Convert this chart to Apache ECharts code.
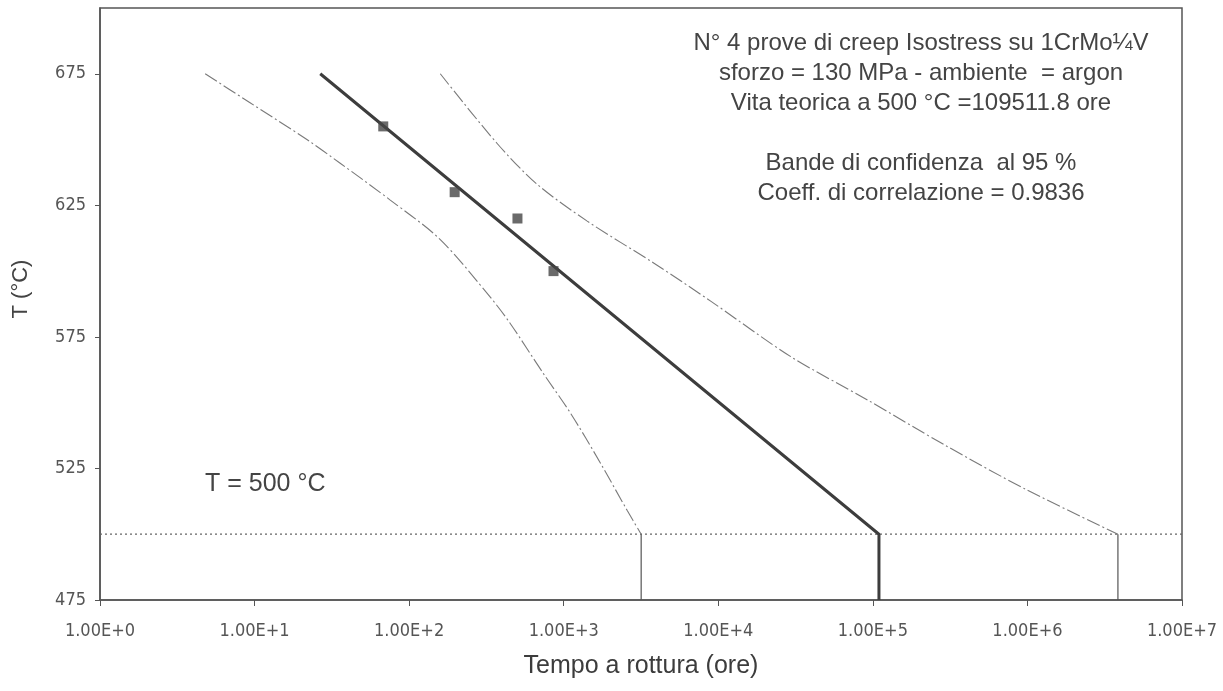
<!DOCTYPE html>
<html>
<head>
<meta charset="utf-8">
<script src="https://cdn.jsdelivr.net/npm/echarts@6/dist/echarts.min.js"></script>
<style>
  html, body { margin: 0; padding: 0; background: #fff; }
  #chart { width: 1223px; height: 691px; }
</style>
</head>
<body>
<div id="chart"></div>
<script>
// creep test points (ore, °C)
const testHours = [68, 197, 502, 859];
const testTemp = [655, 630, 620, 600];

// regression line, ends at the theoretical life at 500 °C
const fitHours = [26.6, 109511.8];
const fitTemp = [675, 500];

// 95% confidence bands
const lowBandHours = [4.79, 9.35, 21.8, 35.8, 75.5, 159, 336, 452, 740, 1107, 1730, 2576, 3170];
const lowBandTemp = [675, 664, 650, 641, 627, 612, 590, 580, 561, 546, 527, 509, 500];
const highBandHours = [159, 371, 673, 1419, 3837, 8974, 29440, 92470, 289700, 979500, 3850000];
const highBandTemp = [675, 648.5, 633, 619, 603, 588.5, 567.5, 551, 534, 517, 500];

const refTemp = 500;
const yTicks = [475, 525, 575, 625, 675];

const infoLines = [
  "N° 4 prove di creep Isostress su 1CrMo¼V",
  "sforzo = 130 MPa - ambiente  = argon",
  "Vita teorica a 500 °C =109511.8 ore",
  "",
  "Bande di confidenza  al 95 %",
  "Coeff. di correlazione = 0.9836",
];

const zip = (xs, ys) => xs.map((x, i) => [x, ys[i]]);
const TICK_FONT = "'DejaVu Sans Condensed', 'Liberation Sans Narrow', sans-serif";
const TEXT_FONT = "'Liberation Sans', Arial, sans-serif";

let myChart = echarts.init(document.getElementById("chart"));

let lastFit = fitHours[fitHours.length - 1];
let lastLow = lowBandHours[lowBandHours.length - 1];
let lastHigh = highBandHours[highBandHours.length - 1];

let bandStyle = { color: "#7a7a7a", width: 1.1, type: [14, 3, 2, 3] };
let dropStyle = { color: "#555", width: 1.2 };

let option = {
  animation: false,
  backgroundColor: "#fff",
  grid: {
    left: 100,
    right: 41,
    top: 8,
    bottom: 91,
    show: true,
    borderColor: "#555",
    borderWidth: 1.5,
  },
  xAxis: {
    type: "log",
    logBase: 10,
    min: 1,
    max: 1e7,
    splitNumber: 7,
    name: "Tempo a rottura (ore)",
    nameLocation: "middle",
    nameGap: 54,
    nameTextStyle: { fontFamily: TEXT_FONT, fontSize: 25, color: "#3c3c3c" },
    axisLine: { lineStyle: { color: "#555", width: 1.5 } },
    axisTick: { show: true, length: 6, lineStyle: { color: "#555" } },
    axisLabel: {
      margin: 22,
      fontFamily: TICK_FONT,
      fontSize: 18,
      color: "#555",
      formatter: function (value) {
        return "1.00E+" + Math.round(Math.log10(value));
      },
    },
    splitLine: { show: false },
  },
  yAxis: {
    type: "value",
    min: 475,
    max: 700,
    name: "T (°C)",
    nameLocation: "middle",
    nameGap: 68,
    nameRotate: 90,
    nameTextStyle: { fontFamily: TEXT_FONT, fontSize: 22, color: "#444", padding: [0, 0, 0, 30] },
    axisLine: { show: true, lineStyle: { color: "#555", width: 1.5 } },
    axisTick: { show: true, length: 5, customValues: yTicks, lineStyle: { color: "#555" } },
    axisLabel: {
      margin: 14,
      fontFamily: TICK_FONT,
      fontSize: 18,
      color: "#555",
      customValues: yTicks,
    },
    splitLine: { show: false },
  },
  series: [
    {
      name: "T = 500",
      type: "line",
      data: [[1, refTemp], [1e7, refTemp]],
      symbol: "none",
      lineStyle: { color: "#666", width: 1.2, type: [2, 3] },
      z: 1,
    },
    {
      name: "banda inferiore",
      type: "line",
      data: zip(lowBandHours, lowBandTemp),
      symbol: "none",
      smooth: 0.3,
      lineStyle: bandStyle,
    },
    {
      name: "banda superiore",
      type: "line",
      data: zip(highBandHours, highBandTemp),
      symbol: "none",
      smooth: 0.3,
      lineStyle: bandStyle,
    },
    {
      name: "drop inferiore",
      type: "line",
      data: [[lastLow, refTemp], [lastLow, 475]],
      symbol: "none",
      lineStyle: dropStyle,
    },
    {
      name: "drop superiore",
      type: "line",
      data: [[lastHigh, refTemp], [lastHigh, 475]],
      symbol: "none",
      lineStyle: dropStyle,
    },
    {
      name: "regressione",
      type: "line",
      data: [...zip(fitHours, fitTemp), [lastFit, 475]],
      symbol: "none",
      lineStyle: { color: "#3d3d3d", width: 3 },
      z: 3,
    },
    {
      name: "prove",
      type: "scatter",
      data: zip(testHours, testTemp),
      symbol: "rect",
      symbolSize: 10,
      itemStyle: { color: "#454545" },
      z: 4,
    },
  ],
  graphic: [
    {
      type: "text",
      x: 205,
      y: 484,
      style: { text: "T = 500 °C", font: "25px " + TEXT_FONT, fill: "#444", verticalAlign: "middle" },
    },
    ...infoLines.map((line, i) => ({
      type: "text",
      x: 921,
      y: 43 + i * 30,
      style: {
        text: line,
        font: "24px " + TEXT_FONT,
        fill: "#444",
        align: "center",
        verticalAlign: "middle",
      },
    })),
  ],
};

option && myChart.setOption(option);
</script>
</body>
</html>
